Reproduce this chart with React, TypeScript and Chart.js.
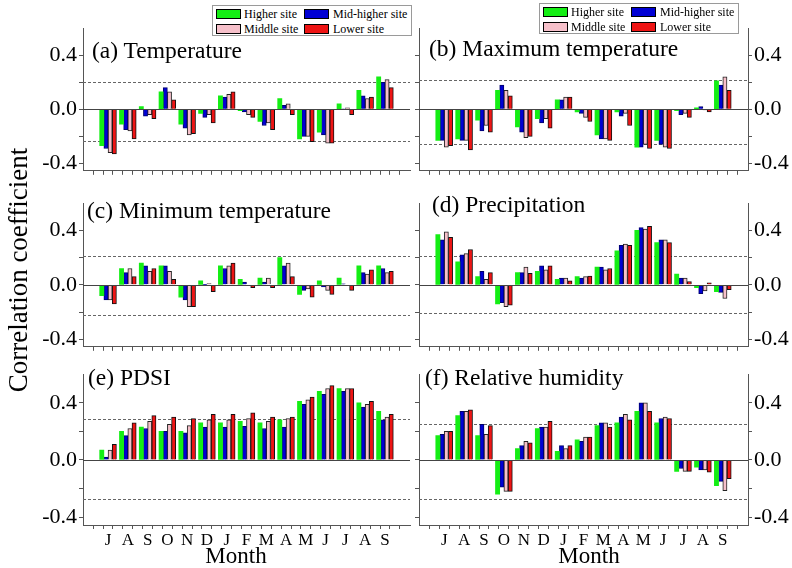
import React, { useEffect, useRef } from 'react';
import { Chart, registerables } from 'chart.js';

Chart.register(...registerables);

// ---------- data ----------
const MONTHS = ['J', 'A', 'S', 'O', 'N', 'D', 'J', 'F', 'M', 'A', 'M', 'J', 'J', 'A', 'S'];
const SERIES = ['Higher site', 'Mid-higher site', 'Middle site', 'Lower site'];
const Y_TICKS = [-0.4, -0.2, 0, 0.2, 0.4];
const Y_MIN = -0.455;
const Y_MAX = 0.6;

// (a) Temperature
const TEMP_HIGHER = [-0.27, -0.11, 0.02, 0.13, -0.11, -0.03, 0.10, -0.01, -0.09, 0.08, -0.22, -0.17, 0.04, 0.14, 0.24];
const TEMP_MIDHIGHER = [-0.29, -0.15, -0.05, 0.16, -0.14, -0.06, 0.09, -0.02, -0.12, 0.03, -0.20, -0.19, 0.003, 0.10, 0.20];
const TEMP_MIDDLE = [-0.32, -0.16, -0.04, 0.13, -0.19, -0.04, 0.11, -0.04, -0.10, 0.04, -0.20, -0.25, 0.01, 0.08, 0.22];
const TEMP_LOWER = [-0.33, -0.22, -0.07, 0.07, -0.18, -0.10, 0.13, -0.06, -0.15, -0.04, -0.24, -0.25, -0.04, 0.09, 0.16];
const TEMP_SIG = [0.20, -0.235];

// (b) Maximum temperature
const TMAX_HIGHER = [-0.23, -0.22, -0.08, 0.14, -0.13, -0.07, 0.07, -0.02, -0.19, -0.02, -0.28, -0.23, -0.01, 0.01, 0.21];
const TMAX_MIDHIGHER = [-0.23, -0.23, -0.16, 0.18, -0.17, -0.10, 0.07, -0.03, -0.22, -0.05, -0.28, -0.26, -0.04, 0.02, 0.18];
const TMAX_MIDDLE = [-0.28, -0.23, -0.12, 0.14, -0.21, -0.07, 0.09, -0.06, -0.22, -0.03, -0.26, -0.28, -0.03, -0.004, 0.24];
const TMAX_LOWER = [-0.27, -0.30, -0.17, 0.10, -0.20, -0.14, 0.09, -0.09, -0.23, -0.12, -0.29, -0.29, -0.06, -0.02, 0.14];
const TMAX_SIG = [0.22, -0.26];

// (c) Minimum temperature
const TMIN_HIGHER = [-0.08, 0.12, 0.16, 0.14, -0.09, 0.03, 0.14, 0.04, 0.05, 0.20, -0.07, 0.03, 0.05, 0.14, 0.14];
const TMIN_MIDHIGHER = [-0.11, 0.09, 0.14, 0.14, -0.11, 0.002, 0.12, 0.02, 0.02, 0.14, -0.04, -0.015, 0.007, 0.09, 0.12];
const TMIN_MIDDLE = [-0.11, 0.12, 0.10, 0.10, -0.16, 0.01, 0.14, -0.005, 0.05, 0.16, -0.03, -0.04, 0.0, 0.08, 0.09];
const TMIN_LOWER = [-0.14, 0.06, 0.12, 0.04, -0.16, -0.05, 0.16, -0.02, -0.02, 0.06, -0.09, -0.07, -0.04, 0.11, 0.10];
const TMIN_SIG = [0.21, -0.22];

// (d) Precipitation
const PREC_HIGHER = [0.37, 0.17, 0.06, -0.14, 0.09, 0.10, 0.04, 0.06, 0.13, 0.25, 0.40, 0.31, 0.08, -0.02, -0.05];
const PREC_MIDHIGHER = [0.33, 0.22, 0.10, -0.13, 0.09, 0.14, 0.05, 0.05, 0.13, 0.29, 0.42, 0.33, 0.05, -0.065, -0.055];
const PREC_MIDDLE = [0.39, 0.23, 0.04, -0.16, 0.13, 0.11, 0.05, 0.06, 0.11, 0.30, 0.41, 0.33, 0.05, -0.045, -0.10];
const PREC_LOWER = [0.35, 0.26, 0.09, -0.15, 0.085, 0.14, 0.03, 0.065, 0.12, 0.29, 0.43, 0.31, 0.025, 0.015, -0.035];
const PREC_SIG = [0.21, -0.21];

// (e) PDSI
const PDSI_HIGHER = [0.07, 0.20, 0.23, 0.20, 0.20, 0.26, 0.26, 0.27, 0.26, 0.28, 0.41, 0.48, 0.50, 0.40, 0.34];
const PDSI_MIDHIGHER = [0.02, 0.17, 0.22, 0.20, 0.19, 0.23, 0.23, 0.235, 0.22, 0.23, 0.39, 0.46, 0.48, 0.37, 0.28];
const PDSI_MIDDLE = [0.07, 0.22, 0.27, 0.25, 0.24, 0.28, 0.28, 0.29, 0.27, 0.29, 0.42, 0.50, 0.50, 0.39, 0.30];
const PDSI_LOWER = [0.11, 0.26, 0.31, 0.30, 0.29, 0.32, 0.32, 0.33, 0.30, 0.30, 0.44, 0.52, 0.50, 0.41, 0.32];
const PDSI_SIG = [0.29, -0.27];

// (f) Relative humidity
const RH_HIGHER = [0.17, 0.31, 0.17, -0.24, 0.08, 0.22, 0.06, 0.14, 0.24, 0.26, 0.34, 0.26, -0.08, -0.05, -0.18];
const RH_MIDHIGHER = [0.18, 0.34, 0.25, -0.19, 0.10, 0.23, 0.10, 0.13, 0.26, 0.30, 0.40, 0.29, -0.06, -0.07, -0.15];
const RH_MIDDLE = [0.20, 0.34, 0.18, -0.22, 0.13, 0.23, 0.08, 0.16, 0.26, 0.32, 0.40, 0.30, -0.08, -0.07, -0.215];
const RH_LOWER = [0.20, 0.35, 0.24, -0.22, 0.12, 0.27, 0.10, 0.16, 0.23, 0.28, 0.34, 0.29, -0.08, -0.085, -0.13];
const RH_SIG = [0.25, -0.27];

// ---------- styles / layout ----------
const SERIF = '"Liberation Serif", "Times New Roman", Times, serif';
const FILLS = ['#14EE14', '#0000D4', '#F6C0CA', '#EE1414'];
const EDGES = ['#14EE14', '#00006A', '#222222', '#111111'];
const EDGE_W = [0, 1, 1, 1];
const AXIS = '#555555';

const ROWS = [
  { top: 19, bottom: 180 },
  { top: 194, bottom: 356 },
  { top: 365, bottom: 525 },
];
const COLS = [
  { left: 83, right: 410 },
  { left: 419, right: 748 },
];

type PanelSpec = {
  title: string;
  values: number[][];
  sig: number[];
  row: number;
  col: number;
  titleX: number;
  titleBase: number;
};

const PANELS: PanelSpec[] = [
  { title: '(a) Temperature', values: [TEMP_HIGHER, TEMP_MIDHIGHER, TEMP_MIDDLE, TEMP_LOWER], sig: TEMP_SIG, row: 0, col: 0, titleX: 92, titleBase: 59 },
  { title: '(b) Maximum temperature', values: [TMAX_HIGHER, TMAX_MIDHIGHER, TMAX_MIDDLE, TMAX_LOWER], sig: TMAX_SIG, row: 0, col: 1, titleX: 429, titleBase: 57 },
  { title: '(c) Minimum temperature', values: [TMIN_HIGHER, TMIN_MIDHIGHER, TMIN_MIDDLE, TMIN_LOWER], sig: TMIN_SIG, row: 1, col: 0, titleX: 87, titleBase: 219 },
  { title: '(d) Precipitation', values: [PREC_HIGHER, PREC_MIDHIGHER, PREC_MIDDLE, PREC_LOWER], sig: PREC_SIG, row: 1, col: 1, titleX: 432, titleBase: 213 },
  { title: '(e) PDSI', values: [PDSI_HIGHER, PDSI_MIDHIGHER, PDSI_MIDDLE, PDSI_LOWER], sig: PDSI_SIG, row: 2, col: 0, titleX: 88, titleBase: 386 },
  { title: '(f) Relative humidity', values: [RH_HIGHER, RH_MIDHIGHER, RH_MIDDLE, RH_LOWER], sig: RH_SIG, row: 2, col: 1, titleX: 425, titleBase: 386 },
];

const refLines = {
  id: 'refLines',
  beforeDatasetsDraw(chart: any, _args: any, opts: any) {
    const { ctx, chartArea } = chart;
    const y = chart.scales.y;
    ctx.save();
    ctx.lineWidth = 1;
    ctx.strokeStyle = '#666';
    ctx.setLineDash([3, 2]);
    for (const v of opts.sig as number[]) {
      const py = Math.round(y.getPixelForValue(v)) + 0.5;
      ctx.beginPath();
      ctx.moveTo(chartArea.left, py);
      ctx.lineTo(chartArea.right, py);
      ctx.stroke();
    }
    ctx.restore();
  },
  afterDatasetsDraw(chart: any) {
    const { ctx, chartArea } = chart;
    const y = chart.scales.y;
    ctx.save();
    ctx.lineWidth = 1;
    ctx.strokeStyle = '#444';
    const py = Math.round(y.getPixelForValue(0)) + 0.5;
    ctx.beginPath();
    ctx.moveTo(chartArea.left, py);
    ctx.lineTo(chartArea.right, py);
    ctx.stroke();
    ctx.restore();
  },
};

function Panel({ p }: { p: PanelSpec }) {
  const ref = useRef<HTMLCanvasElement>(null);
  const row = ROWS[p.row];
  const col = COLS[p.col];
  const isLeft = p.col === 0;
  const isBottom = p.row === 2;
  const cLeft = isLeft ? 0 : 414;
  const cRight = isLeft ? 418 : 792;
  const padTop = 6;
  const xH = isBottom ? 43 : 6;
  const cTop = row.top - padTop;
  const cW = cRight - cLeft;
  const cH = row.bottom - row.top + padTop + xH;

  useEffect(() => {
    const plotW = col.right - col.left;
    const barW = (plotW / 16) * 0.82 / 4;
    const halfTicks: number[] = [];
    for (let v = 0.5; v <= 15.5; v += 0.5) halfTicks.push(v);

    const yTickSetup = (s: any) => {
      s.ticks = Y_TICKS.map((v) => ({ value: v }));
    };

    const scales: any = {
      x: {
        type: 'linear',
        min: 0,
        max: 16,
        afterBuildTicks: (s: any) => {
          s.ticks = halfTicks.map((v) => ({ value: v }));
        },
        ticks: {
          display: isBottom,
          autoSkip: false,
          maxRotation: 0,
          padding: 1,
          color: '#000',
          font: { family: SERIF, size: 17 },
          callback: (v: any) => {
            const n = Number(v);
            return Number.isInteger(n) && n >= 1 && n <= 15 ? MONTHS[n - 1] : '';
          },
        },
        grid: { drawOnChartArea: false, drawTicks: true, tickLength: 4, color: AXIS },
        border: { display: true, color: AXIS, width: 1 },
        afterFit: (s: any) => {
          s.height = xH;
        },
      },
      y: {
        position: isLeft ? 'left' : 'right',
        min: Y_MIN,
        max: Y_MAX,
        afterBuildTicks: yTickSetup,
        ticks: {
          padding: 2,
          color: '#000',
          font: { family: SERIF, size: 22 },
          callback: (v: any) => (Math.abs(Number(v)) === 0.2 ? '' : Number(v).toFixed(1)),
        },
        grid: { drawOnChartArea: false, drawTicks: true, tickLength: 4, color: AXIS },
        border: { display: true, color: AXIS, width: 1 },
        afterFit: (s: any) => {
          s.width = isLeft ? col.left - cLeft : cRight - col.right;
        },
      },
    };
    if (!isLeft) {
      scales.yl = {
        position: 'left',
        min: Y_MIN,
        max: Y_MAX,
        afterBuildTicks: yTickSetup,
        ticks: { display: false },
        grid: { drawOnChartArea: false, drawTicks: true, tickLength: 4, color: AXIS },
        border: { display: true, color: AXIS, width: 1 },
        afterFit: (s: any) => {
          s.width = col.left - cLeft;
        },
      };
    }

    const chart = new Chart(ref.current as HTMLCanvasElement, {
      type: 'bar',
      data: {
        datasets: p.values.map((arr, k) => ({
          label: SERIES[k],
          data: arr.map((v, i) => ({ x: i + 1, y: v })),
          backgroundColor: FILLS[k],
          borderColor: EDGES[k],
          borderWidth: EDGE_W[k],
          barThickness: barW,
        })),
      },
      options: {
        responsive: false,
        devicePixelRatio: 1,
        animation: false,
        layout: {
          padding: { left: 0, right: isLeft ? cRight - col.right : 0, top: padTop, bottom: 0 },
        },
        plugins: {
          legend: { display: false },
          tooltip: { enabled: false },
          refLines: { sig: p.sig },
        } as any,
        scales,
      },
      plugins: [refLines],
    } as any);
    return () => chart.destroy();
  }, []);

  return (
    <canvas
      ref={ref}
      width={cW}
      height={cH}
      style={{ position: 'absolute', left: cLeft, top: cTop, width: cW, height: cH }}
    />
  );
}

function Txt({ x, base, size, children, center }: { x: number; base: number; size: number; children: any; center?: boolean }) {
  const top = base - 0.8375 * size;
  const style: any = {
    position: 'absolute',
    top,
    fontFamily: SERIF,
    fontSize: size,
    lineHeight: '1',
    whiteSpace: 'nowrap',
    color: '#000',
  };
  if (center) {
    style.left = x - 150;
    style.width = 300;
    style.textAlign = 'center';
  } else {
    style.left = x;
  }
  return <div style={style}>{children}</div>;
}

function Legend({ left, top }: { left: number; top: number }) {
  return (
    <div
      style={{
        position: 'absolute',
        left,
        top,
        width: 200,
        height: 31,
        border: '1px solid #9a9a9a',
        boxSizing: 'border-box',
        background: '#fff',
      }}
    >
      {SERIES.map((s, i) => {
        const c = i % 2;
        const r = Math.floor(i / 2);
        const sx = c === 0 ? 3 : 91;
        const tx = c === 0 ? 31 : 120;
        const sy = r === 0 ? 2.5 : 17.5;
        const base = r === 0 ? 12.5 : 27.5;
        return (
          <React.Fragment key={s}>
            <div
              style={{
                position: 'absolute',
                left: sx,
                top: sy,
                width: 25,
                height: 10,
                background: FILLS[i],
                border: '1px solid #000',
                boxSizing: 'border-box',
              }}
            />
            <div
              style={{
                position: 'absolute',
                left: tx,
                top: base - 0.8375 * 12,
                fontFamily: SERIF,
                fontSize: 12,
                lineHeight: '1',
                whiteSpace: 'nowrap',
                color: '#000',
              }}
            >
              {s}
            </div>
          </React.Fragment>
        );
      })}
    </div>
  );
}

export default function App() {
  return (
    <div
      style={{
        position: 'fixed',
        left: 0,
        top: 0,
        width: 792,
        height: 568,
        background: '#fff',
        overflow: 'hidden',
      }}
    >
      {PANELS.map((p) => (
        <Panel key={p.title} p={p} />
      ))}
      {PANELS.map((p) => (
        <Txt key={'t' + p.title} x={p.titleX} base={p.titleBase} size={23.5}>
          {p.title}
        </Txt>
      ))}
      <Legend left={212} top={5} />
      <Legend left={539} top={3} />
      <Txt x={236} base={563} size={23} center>
        Month
      </Txt>
      <Txt x={589} base={563} size={23} center>
        Month
      </Txt>
      <div
        style={{
          position: 'absolute',
          left: 18 - 150,
          top: 270 - 16,
          width: 300,
          height: 32,
          lineHeight: '32px',
          textAlign: 'center',
          fontFamily: SERIF,
          fontSize: 27,
          whiteSpace: 'nowrap',
          transform: 'rotate(-90deg)',
          color: '#000',
        }}
      >
        Correlation coefficient
      </div>
    </div>
  );
}
